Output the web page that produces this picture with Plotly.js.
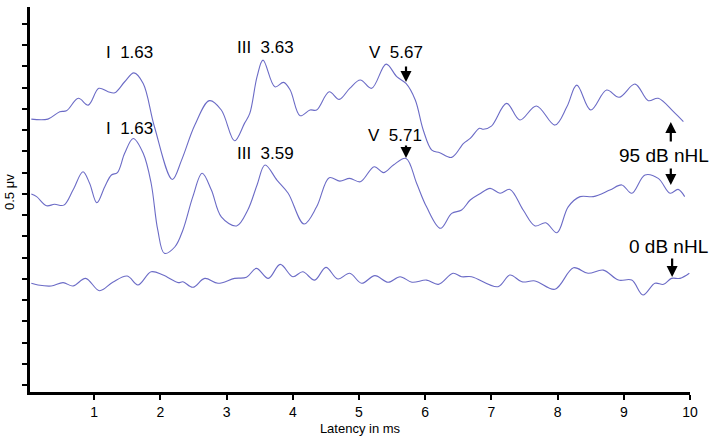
<!DOCTYPE html>
<html>
<head>
<meta charset="utf-8">
<script src="https://cdn.plot.ly/plotly-3.0.1.min.js"></script>
<style>html,body{margin:0;padding:0;background:#fff;}#chart{width:715px;height:440px;}</style>
</head>
<body>
<div id="chart"></div>
<script>
// Latency (ms) and amplitude (in axis tick units)
const x95a = [0.05,0.30,0.48,0.58,0.76,0.91,1.07,1.21,1.31,1.46,1.60,1.74,1.91,2.18,2.32,2.52,2.74,2.92,3.12,3.27,3.35,3.46,3.55,3.73,3.86,3.96,4.11,4.26,4.36,4.55,4.70,4.86,5.02,5.19,5.41,5.57,5.71,5.85,5.97,6.10,6.22,6.40,6.58,6.68,6.82,6.88,7.00,7.23,7.43,7.68,7.96,8.14,8.29,8.50,8.74,8.93,9.17,9.37,9.52,9.75,9.90];
const y95a = [12.52,12.52,12.87,12.91,13.50,13.18,13.97,13.81,13.76,14.28,14.70,14.20,12.16,9.68,10.59,12.24,13.39,12.95,11.50,12.32,12.79,14.52,15.30,14.04,14.25,13.89,12.68,12.95,12.95,13.81,13.45,13.97,14.36,13.97,15.11,14.52,14.20,13.42,12.01,11.06,10.94,10.72,11.38,11.61,12.09,12.04,12.19,13.26,12.48,13.14,12.24,13.10,14.12,12.95,13.89,13.55,14.17,13.39,13.50,12.87,12.40];

const x95b = [0.05,0.13,0.28,0.40,0.54,0.68,0.83,0.93,1.04,1.16,1.26,1.35,1.46,1.59,1.74,1.86,1.96,2.06,2.22,2.34,2.49,2.63,2.77,2.92,3.15,3.32,3.46,3.58,3.76,3.93,4.17,4.36,4.55,4.71,4.86,5.02,5.23,5.37,5.52,5.71,5.87,6.02,6.23,6.40,6.55,6.68,6.82,6.98,7.13,7.28,7.48,7.66,7.82,7.99,8.16,8.34,8.54,8.79,8.97,9.12,9.32,9.52,9.70,9.82,9.92];
const y95b = [8.99,8.87,8.44,8.51,8.47,9.18,10.04,9.50,8.58,9.34,9.89,10.00,10.91,11.61,10.91,9.50,7.30,6.20,6.51,7.30,8.87,9.97,9.18,7.92,7.49,8.24,9.42,10.36,9.65,9.03,7.58,8.39,9.76,9.60,9.73,9.57,10.28,10.00,10.36,10.67,9.50,8.39,7.38,8.08,8.24,8.71,8.99,9.26,9.03,9.21,8.24,7.49,7.64,7.17,8.39,8.87,8.87,9.18,9.42,9.03,9.89,9.73,9.03,9.21,8.87];

const x0dB = [0.05,0.15,0.35,0.53,0.68,0.87,1.08,1.28,1.50,1.66,1.86,2.04,2.27,2.34,2.49,2.67,2.87,3.12,3.30,3.45,3.63,3.81,4.00,4.15,4.33,4.50,4.68,4.86,5.04,5.24,5.44,5.62,5.80,6.02,6.20,6.42,6.55,6.70,7.10,7.28,7.46,7.66,7.96,8.24,8.46,8.69,8.92,9.12,9.29,9.47,9.60,9.72,9.85,9.99];
const y0dB = [4.79,4.71,4.66,4.82,4.66,5.02,4.44,4.84,5.13,4.71,5.33,5.18,4.82,4.86,4.60,5.02,4.79,5.02,5.07,5.49,5.02,5.68,5.10,5.33,4.94,5.54,4.99,5.26,4.79,5.15,4.84,5.10,4.84,4.94,4.74,5.26,5.10,5.10,4.63,5.18,4.86,4.90,4.51,5.52,5.26,5.41,4.94,4.94,4.24,4.79,4.74,5.02,5.02,5.26];

const xTickVals = [1,2,3,4,5,6,7,8,9,10];
const xTickText = ['1','2','3','4','5','6','7','8','9','10'];
const yTickVals = [0,1,2,3,4,5,6,7,8,9,10,11,12,13,14,15,16,17];

const peakLabels = ['I  1.63','III  3.63','V  5.67','I  1.63','III  3.59','V  5.71'];
const peakLabelX = [1.54,3.58,5.56,1.54,3.58,5.54];
const peakLabelY = [15.68,15.87,15.68,12.10,10.88,11.77];

const levelLabels = ['95 dB nHL','0 dB nHL'];
const levelLabelX = [9.61,9.68];
const levelLabelY = [10.83,6.50];

// arrows: head position in data, tail offset in px
const arrowX = [5.71,5.71,9.71,9.71,9.73];
const arrowY = [14.27,10.69,12.38,9.42,5.08];
const arrowAY = [-17,-14,21,-18,-20];

const lineColor = '#6b6bc6';
const mk = (x,y) => ({x:x,y:y,type:'scatter',mode:'lines',line:{color:lineColor,width:1.1,shape:'spline',smoothing:1},hoverinfo:'skip',showlegend:false});
const data = [mk(x95a,y95a), mk(x95b,y95b), mk(x0dB,y0dB)];

const annotations = [];
peakLabels.forEach((t,i)=>annotations.push({x:peakLabelX[i],y:peakLabelY[i],xref:'x',yref:'y',text:t,showarrow:false,font:{family:'Liberation Sans, Arial, sans-serif',size:17,color:'#000'}}));
levelLabels.forEach((t,i)=>annotations.push({x:levelLabelX[i],y:levelLabelY[i],xref:'x',yref:'y',text:t,showarrow:false,font:{family:'Liberation Sans, Arial, sans-serif',size:19,color:'#000'}}));
arrowX.forEach((x,i)=>annotations.push({x:x,y:arrowY[i],xref:'x',yref:'y',text:'',showarrow:true,arrowhead:2,arrowsize:1,arrowwidth:2.2,arrowcolor:'#000',ax:0,ay:arrowAY[i],standoff:0}));
annotations.push({x:10,y:192,xref:'paper',yref:'paper',text:'',showarrow:false});
annotations.pop();
annotations.push({xref:'paper',yref:'paper',x:-0.03,y:0.52,text:'0.5 μv',textangle:-90,showarrow:false,xanchor:'center',yanchor:'middle',font:{family:'Liberation Sans, Arial, sans-serif',size:13,color:'#000'}});

const layout = {
  width:715,height:440,
  margin:{l:30,r:25,t:7,b:48},
  paper_bgcolor:'#fff',plot_bgcolor:'#fff',
  showlegend:false,
  xaxis:{range:[0.03,10],tickmode:'array',tickvals:xTickVals,ticktext:xTickText,ticks:'outside',ticklen:5,tickwidth:2,tickcolor:'#000',
    showline:true,linecolor:'#000',linewidth:3,showgrid:false,zeroline:false,
    tickfont:{family:'Liberation Sans, Arial, sans-serif',size:14,color:'#000'},
    title:{text:'Latency in ms',font:{family:'Liberation Sans, Arial, sans-serif',size:13,color:'#000'},standoff:6}},
  yaxis:{range:[-0.33,17.8],tickmode:'array',tickvals:yTickVals,showticklabels:false,ticks:'outside',ticklen:5,tickwidth:2,tickcolor:'#000',
    showline:true,linecolor:'#000',linewidth:3,showgrid:false,zeroline:false},
  annotations:annotations
};
Plotly.newPlot('chart',data,layout,{staticPlot:true});
</script>
</body>
</html>
